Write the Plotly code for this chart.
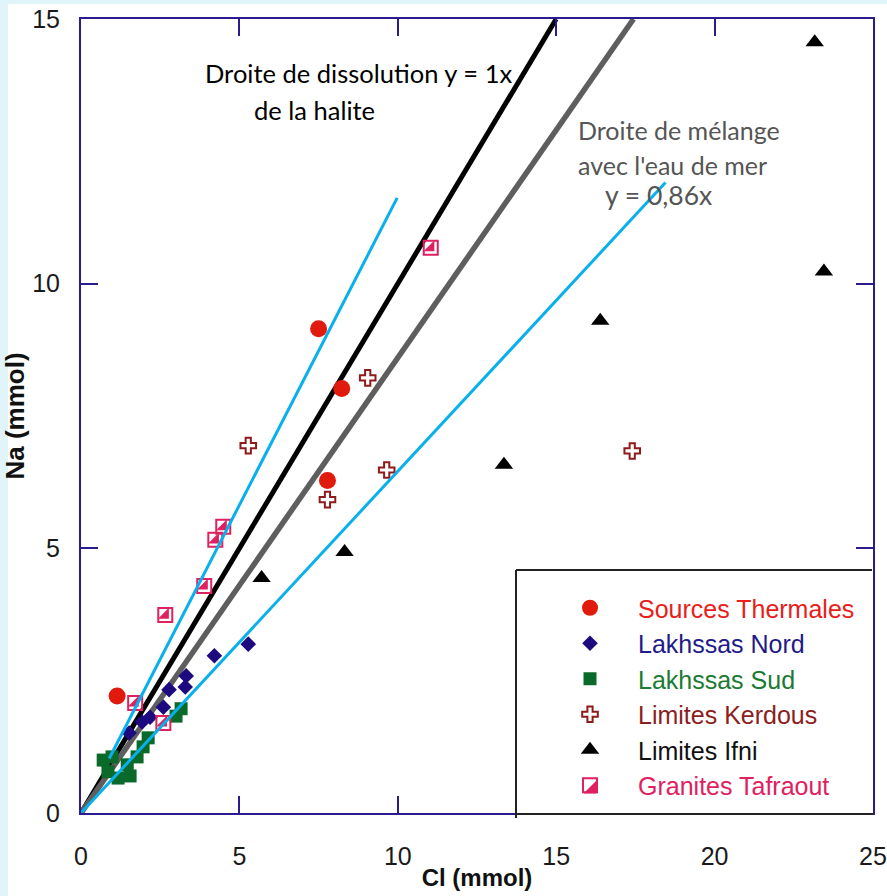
import plotly.graph_objects as go

# ---------------- data (Cl, Na in mmol) ----------------
thermal_cl = [1.14, 7.50, 8.23, 7.78]
thermal_na = [2.21, 9.15, 8.02, 6.28]

nord_cl = [5.28, 4.21, 3.32, 3.29, 2.78, 2.60, 2.18, 1.93, 1.52]
nord_na = [3.19, 2.97, 2.59, 2.38, 2.33, 2.00, 1.81, 1.72, 1.51]

sud_cl = [0.70, 0.98, 0.85, 1.17, 1.55, 1.46, 1.77, 1.96, 2.12, 3.00, 3.16]
sud_na = [1.00, 1.06, 0.78, 0.66, 0.70, 0.91, 1.06, 1.25, 1.42, 1.83, 1.97]

kerdous_cl = [5.28, 9.05, 9.65, 7.78, 17.40]
kerdous_na = [6.94, 8.22, 6.48, 5.92, 6.84]

ifni_cl = [23.16, 23.45, 16.39, 13.35, 8.32, 5.70]
ifni_na = [14.56, 10.23, 9.30, 6.58, 4.93, 4.44]

tafraout_cl = [11.04, 4.49, 4.24, 3.89, 2.66, 1.71, 2.60]
tafraout_na = [10.68, 5.41, 5.16, 4.29, 3.74, 2.08, 1.70]

# reference lines
halite_cl = [0, 15]
halite_na = [0, 15]
mix_cl = [0, 17.44]
mix_na = [0, 15]
upper_cl = [0.89, 9.98]
upper_na = [1.03, 11.62]
lower_cl = [0, 18.45]
lower_na = [0, 11.91]

x_ticks = [0, 5, 10, 15, 20, 25]
y_ticks = [0, 5, 10, 15]

# ---------------- styling ----------------
NAVY = "#2A1C8C"
BLUE = "#0AB0EC"
RED = "#E01B0E"
PINK = "#E0215F"
DNAVY = "#1C0A7E"
GREEN = "#0A6A2A"
DRED = "#8E1B1B"
CYAN_BG = "#E0F4F9"

W, H = 887, 896
L, R, T, B = 81, 873, 19, 813      # plot area in pixels


def px(x):
    return (x - L) / (R - L)


def py(y):
    return (B - y) / (B - T)


fig = go.Figure()

# reference lines under markers
fig.add_trace(go.Scatter(x=halite_cl, y=halite_na, mode="lines",
                         line=dict(color="black", width=5), showlegend=False, hoverinfo="skip"))
fig.add_trace(go.Scatter(x=mix_cl, y=mix_na, mode="lines",
                         line=dict(color="#5E5E5E", width=5.5), showlegend=False, hoverinfo="skip"))


def legname(txt, col):
    return f'<span style="color:{col}">{txt}</span>'


fig.add_trace(go.Scatter(x=thermal_cl, y=thermal_na, mode="markers",
                         name=legname("Sources Thermales", "#E8201A"),
                         marker=dict(symbol="circle", size=17, color=RED)))
fig.add_trace(go.Scatter(x=nord_cl, y=nord_na, mode="markers",
                         name=legname("Lakhssas Nord", "#231A8A"),
                         marker=dict(symbol="diamond", size=12, color=DNAVY)))
fig.add_trace(go.Scatter(x=sud_cl, y=sud_na, mode="markers",
                         name=legname("Lakhssas Sud", "#1B7A33"),
                         marker=dict(symbol="square", size=13, color=GREEN)))
fig.add_trace(go.Scatter(x=kerdous_cl, y=kerdous_na, mode="markers",
                         name=legname("Limites Kerdous", "#8B1E1E"),
                         marker=dict(symbol="cross-open", size=13, color=DRED,
                                     line=dict(color=DRED, width=2))))
fig.add_trace(go.Scatter(x=ifni_cl, y=ifni_na, mode="markers",
                         name=legname("Limites Ifni", "#111111"),
                         marker=dict(symbol="triangle-up", size=16, color="black")))
fig.add_trace(go.Scatter(x=tafraout_cl, y=tafraout_na, mode="markers",
                         name=legname("Granites Tafraout", "#E0215F"),
                         legendgroup="taf",
                         marker=dict(symbol="square-open", size=14, color=PINK,
                                     line=dict(color=PINK, width=2))))
fig.add_trace(go.Scatter(x=tafraout_cl, y=tafraout_na, mode="markers",
                         legendgroup="taf", showlegend=False, hoverinfo="skip",
                         marker=dict(symbol="triangle-se", size=12, color=PINK)))

# blue lines on top
fig.add_trace(go.Scatter(x=upper_cl, y=upper_na, mode="lines",
                         line=dict(color=BLUE, width=3), showlegend=False, hoverinfo="skip"))
fig.add_trace(go.Scatter(x=lower_cl, y=lower_na, mode="lines",
                         line=dict(color=BLUE, width=3), showlegend=False, hoverinfo="skip"))

FONT = "Liberation Sans, Arial, sans-serif"
axis_common = dict(showline=True, linecolor=NAVY, linewidth=2, mirror="ticks",
                   ticks="inside", ticklen=17, tickwidth=2, tickcolor=NAVY,
                   showgrid=False, zeroline=False, ticklabeloverflow="allow",
                   tickfont=dict(family=FONT, size=25, color="#1a1a1a"))

fig.update_layout(
    width=W, height=H,
    margin=dict(l=L, r=W - R, t=T, b=H - B, autoexpand=False),
    paper_bgcolor="white", plot_bgcolor="white",
    xaxis=dict(range=[0, 25], tickvals=x_ticks, ticklabelstandoff=20,
               title=dict(text="<b>Cl (mmol)</b>", standoff=0,
                          font=dict(family=FONT, size=24, color="#111")),
               **axis_common),
    yaxis=dict(range=[0, 15], tickvals=y_ticks, ticklabelstandoff=14,
               title=dict(text="<b>Na (mmol)</b>", standoff=0,
                          font=dict(family=FONT, size=26, color="#111")),
               **axis_common),
    legend=dict(x=px(542), y=py(585), xanchor="left", yanchor="top",
                bgcolor="rgba(0,0,0,0)", borderwidth=0, itemwidth=86, tracegroupgap=0,
                font=dict(family=FONT, size=25)),
    showlegend=True,
)

# legend box (drawn as shapes) and half-fill of the Tafraout legend symbol
lx, ly = 590, 787
tri = (f"M {px(lx + 6.5)},{py(ly - 6.5)} L {px(lx + 6.5)},{py(ly + 6.5)} "
       f"L {px(lx - 6.5)},{py(ly + 6.5)} Z")
shapes = [
    # light cyan frame strips (left and top)
    dict(type="rect", xref="paper", yref="paper", x0=px(0), x1=px(8), y0=py(H), y1=py(0),
         fillcolor=CYAN_BG, line=dict(width=0), layer="below"),
    dict(type="rect", xref="paper", yref="paper", x0=px(0), x1=px(W), y0=py(4), y1=py(0),
         fillcolor=CYAN_BG, line=dict(width=0), layer="below"),
    # legend box
    dict(type="rect", xref="paper", yref="paper", x0=px(516), x1=px(872), y0=py(813), y1=py(570),
         fillcolor="white", line=dict(width=0), layer="above"),
    dict(type="line", xref="paper", yref="paper", x0=px(516), x1=px(872), y0=py(570), y1=py(570),
         line=dict(color="#222", width=2), layer="above"),
    dict(type="line", xref="paper", yref="paper", x0=px(516), x1=px(516), y0=py(570), y1=py(818),
         line=dict(color="#222", width=2), layer="above"),
    dict(type="line", xref="paper", yref="paper", x0=px(516), x1=px(873), y0=py(814), y1=py(814),
         line=dict(color="#222", width=2), layer="above"),
    dict(type="path", xref="paper", yref="paper", path=tri,
         fillcolor=PINK, line=dict(width=0), layer="above"),
]
fig.update_layout(shapes=shapes)

TXT_FONT = "Lato, Open Sans, sans-serif"
annos = [
    ("Droite de dissolution y = 1x", 203, 73, "black", 25.5),
    ("de la halite", 252, 110, "black", 25.5),
    ("Droite de mélange", 576, 130, "#555555", 25),
    ("avec l'eau de mer", 576, 165, "#555555", 25),
    ("y = 0,86x", 603, 195, "#555555", 26.5),
]
for txt, x0, yc, col, fs in annos:
    fig.add_annotation(text=txt, xref="paper", yref="paper", x=px(x0), y=py(yc),
                       xanchor="left", yanchor="middle", showarrow=False,
                       font=dict(family=TXT_FONT, size=fs, color=col))

fig.write_html("out.html",
               config={"displayModeBar": False},
               post_script="document.body.style.margin='0';document.body.style.padding='0';")
